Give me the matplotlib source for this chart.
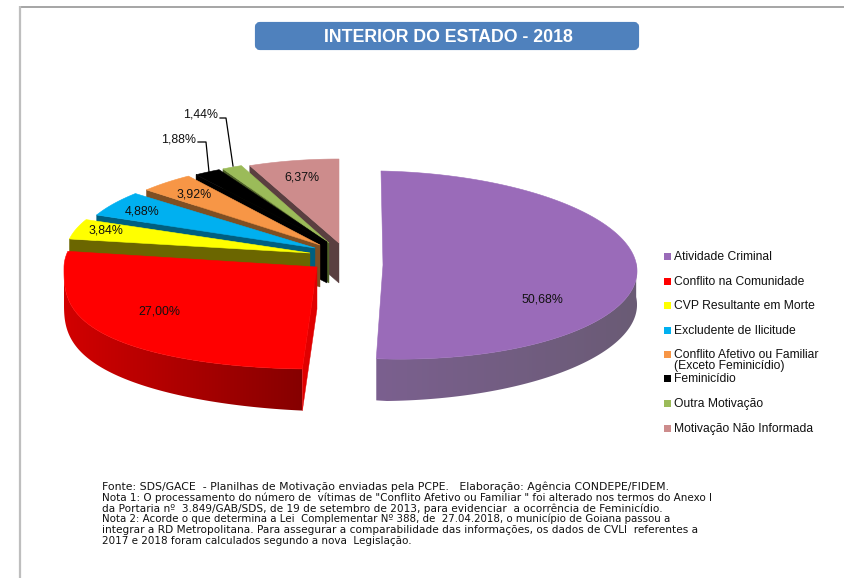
import numpy as np
import matplotlib
matplotlib.use("Agg")
import matplotlib.pyplot as plt
from matplotlib.patches import Polygon, FancyBboxPatch, Rectangle
from matplotlib.colors import LinearSegmentedColormap

plt.rcParams['font.family'] = ['Liberation Sans', 'DejaVu Sans']

# ---------- data ----------
categories = ["Atividade Criminal", "Conflito na Comunidade", "CVP Resultante em Morte",
              "Excludente de Ilicitude", "Conflito Afetivo ou Familiar\n(Exceto Feminicídio)",
              "Feminicídio", "Outra Motivação", "Motivação Não Informada"]
values = [50.68, 27.00, 3.84, 4.88, 3.92, 1.88, 1.44, 6.37]
value_labels = ["50,68%", "27,00%", "3,84%", "4,88%", "3,92%", "1,88%", "1,44%", "6,37%"]
colors = ["#9A6BB9", "#FF0000", "#FFFF00", "#00B0F0", "#F79646", "#000000", "#9BBB59", "#CD8C8C"]
wall_colors = ["#78608A", "#E00000", "#6B6600", "#005F80", "#7F4F23", "#000000", "#4F6228", "#5A3F40"]
title = "INTERIOR DO ESTADO - 2018"
notes = [
    "Fonte: SDS/GACE  - Planilhas de Motivação enviadas pela PCPE.   Elaboração: Agência CONDEPE/FIDEM.",
    "Nota 1: O processamento do número de  vítimas de \"Conflito Afetivo ou Familiar \" foi alterado nos termos do Anexo I",
    "da Portaria nº  3.849/GAB/SDS, de 19 de setembro de 2013, para evidenciar  a ocorrência de Feminicídio.",
    "Nota 2: Acorde o que determina a Lei  Complementar Nº 388, de  27.04.2018, o município de Goiana passou a",
    "integrar a RD Metropolitana. Para assegurar a comparabilidade das informações, os dados de CVLI  referentes a",
    "2017 e 2018 foram calculados segundo a nova  Legislação.",
]

# ---------- layout (pixel space of the figure) ----------
W, H = 845, 578
# cx, cy, rx, ry_back, ry_front, skew_x, skew_y, front_power
geom = [
    (381, 265, 253, 94, 94, 6, 5, 1.0),
    (317, 267, 251, 94, 102, -4, 0, 0.7),
    (310, 253, 244, 84, 84, 0, 0, 1.0),
    (315, 248, 238, 83, 83, 0, 0, 1.0),
    (320, 245, 230, 84, 84, 0, 0, 1.0),
    (327, 242, 229, 82, 82, 0, 0, 1.0),
    (329, 243, 225, 84, 84, 0, 0, 1.0),
    (339, 243, 229, 84, 84, 0, 0, 1.0),
]
depth = [42, 42, 40, 40, 42, 41, 40, 40]
label_pos = [(542, 299), (159, 310.5), (106, 230), (142, 211), (194, 194), (179, 139), (201, 114), (302, 177)]
legend_y = [256, 281, 305, 330, 354, 378.5, 403, 428]
note_y = [487, 497.3, 508, 518.7, 529.5, 540]
note_size = [7.85, 7.5, 7.6, 7.42, 7.55, 7.5]

fig = plt.figure(figsize=(W / 100, H / 100), dpi=100, facecolor="white")
ax = fig.add_axes([0, 0, 1, 1])
ax.set_xlim(0, W)
ax.set_ylim(H, 0)
ax.axis("off")

# frame
ax.plot([19, W], [6.5, 6.5], color="#969696", lw=1.2, solid_capstyle="butt")
ax.plot([20, 20], [6, H], color="#BEBEBE", lw=1.6, solid_capstyle="butt")

# title bar
ax.add_patch(FancyBboxPatch((257, 24), 380, 24, boxstyle="round,pad=0,rounding_size=3",
                            mutation_aspect=1, fc="#4F81BD", ec="#4F81BD", lw=3))
ax.text(448, 41.5, title, color="white", fontweight="bold", fontsize=12.8, ha="center", va="baseline")


def rim(i, theta_deg):
    cx, cy, rx, ryb, ryf, sx, sy, p = geom[i]
    t = np.radians(theta_deg)
    s, c = np.sin(t), np.cos(t)
    x = cx + rx * s + sx * (1 - c) / 2
    y = np.where(c >= 0, cy - ryb * c, cy + ryf * np.abs(c) ** p) + sy * s
    return x, y


cum = np.concatenate([[0], np.cumsum(values)]) * 360 / np.sum(values)


def outer_wall(i, t0, t1, c_left, c_right):
    th = np.linspace(t0, t1, 200)
    x, y = rim(i, th)
    d = depth[i] * (1 - 0.2 * np.abs(np.sin(np.radians(th))))
    pts = np.column_stack([np.r_[x, x[::-1]], np.r_[y, (y + d)[::-1]]])
    poly = Polygon(pts, closed=True, fc="none", ec="none")
    ax.add_patch(poly)
    cmap = LinearSegmentedColormap.from_list("w", [c_left, c_right])
    im = ax.imshow(np.linspace(0, 1, 256)[None, :], cmap=cmap, aspect="auto",
                   extent=(x.min(), x.max(), (y + d).max(), y.min()), zorder=poly.get_zorder())
    im.set_clip_path(poly)
    ax.set_xlim(0, W)
    ax.set_ylim(H, 0)


def top_face(i):
    th = np.linspace(cum[i], cum[i + 1], 200)
    x, y = rim(i, th)
    cx, cy = geom[i][0], geom[i][1]
    if i == 0:
        cx += 2
    pts = np.column_stack([np.r_[cx, x], np.r_[cy, y]])
    ax.add_patch(Polygon(pts, closed=True, fc=colors[i], ec=colors[i], lw=0.4, zorder=2))


# back slices from the rear forward
for order, i in enumerate([7, 6, 5, 4, 3, 2]):
    x0, y0 = rim(i, cum[i])
    cx, cy = geom[i][0], geom[i][1]
    ax.add_patch(Polygon([(cx, cy), (x0, y0), (x0, y0 + depth[i]), (cx, cy + depth[i])],
                         closed=True, fc=wall_colors[i], ec=wall_colors[i], lw=0.3, zorder=2))
    top_face(i)

# red slice
x0, y0 = rim(1, cum[1])
cx, cy = geom[1][0], geom[1][1]
ax.add_patch(Polygon([(cx, cy), (x0, y0), (x0, y0 + depth[1]), (cx, cy + depth[1])],
                     closed=True, fc=wall_colors[1], ec=wall_colors[1], lw=0.3, zorder=2))
outer_wall(1, cum[1], 270, "#D20000", "#860000")
top_face(1)

# purple slice
outer_wall(0, 86, cum[1], "#7B608F", "#6A5B75")
top_face(0)

# value labels
for (lx, ly), t in zip(label_pos, value_labels):
    ax.text(lx, ly + 3.5, t, fontsize=8.9, ha="center", va="baseline", color="#111111", zorder=5)

# leader lines
ax.plot([198, 206, 209], [142, 142, 172], color="black", lw=0.9, zorder=5)
ax.plot([220, 226, 233], [118, 118, 166], color="black", lw=0.9, zorder=5)

# legend
for yy, lab, col in zip(legend_y, categories, colors):
    ax.add_patch(Rectangle((664, yy - 3.5), 7, 7, fc=col, ec="none"))
    for k, part in enumerate(lab.split("\n")):
        ax.text(674, yy + 4 + 11 * k, part, fontsize=8.75, va="baseline", color="#111111")

# notes
for yy, line, sz in zip(note_y, notes, note_size):
    ax.text(102, yy + 3.5, line, fontsize=sz, family="DejaVu Sans", va="baseline", color="#111111")

fig.savefig("out.png", dpi=100, facecolor="white")
